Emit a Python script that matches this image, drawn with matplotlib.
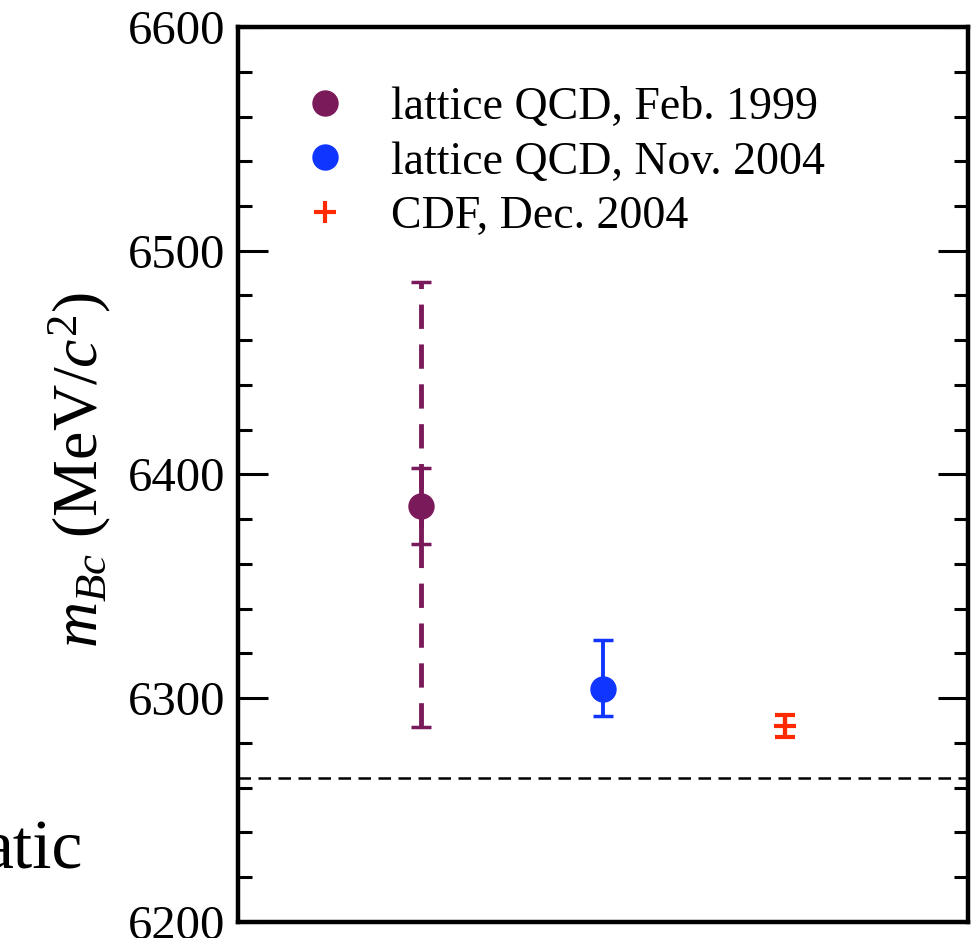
import matplotlib
matplotlib.use("Agg")
import matplotlib.pyplot as plt
from matplotlib.lines import Line2D

plt.rcParams['font.family'] = ['Liberation Serif', 'DejaVu Serif']
plt.rcParams['mathtext.fontset'] = 'custom'
plt.rcParams['mathtext.rm'] = 'Liberation Serif'
plt.rcParams['mathtext.it'] = 'Liberation Serif:italic'

# data (MeV/c^2)
labels = ['lattice QCD, Feb. 1999', 'lattice QCD, Nov. 2004', 'CDF, Dec. 2004']
xpos = [1, 2, 3]
mass = [6386, 6304, 6287.5]
err_total_lo = [99, 12, 5]
err_total_hi = [100, 22, 5]
err_stat_1999 = 17
threshold = 6264.5
colors = ['#7B1A5A', '#0F35FF', '#FF2A00']

fig = plt.figure(figsize=(9.74, 9.38), dpi=100)
ax = fig.add_axes([0.2444, 0.0171, 0.7494, 0.9541])

# horizontal dashed line
ax.axhline(threshold, color='black', lw=1.8, ls=(0, (5, 3)), zorder=1)

# lattice 1999: dashed total error + solid inner error
_, _, bars = ax.errorbar(xpos[0], mass[0], yerr=[[err_total_lo[0]], [err_total_hi[0]]],
                         fmt='none', ecolor=colors[0], elinewidth=3.5, capsize=7.5,
                         capthick=2.5, zorder=2)
bars[0].set_linestyle((0, (5, 3.2)))
ax.errorbar(xpos[0], mass[0], yerr=err_stat_1999, fmt='o', color=colors[0],
            ms=18, elinewidth=3.5, capsize=7.5, capthick=2.5, zorder=3)

# lattice 2004
ax.errorbar(xpos[1], mass[1], yerr=[[err_total_lo[1]], [err_total_hi[1]]], fmt='o',
            color=colors[1], ms=18, elinewidth=2.8, capsize=7.5, capthick=2.5, zorder=3)

# CDF
ax.errorbar(xpos[2], mass[2], yerr=[[err_total_lo[2]], [err_total_hi[2]]], fmt='+',
            color=colors[2], ms=16, mew=3, elinewidth=3, capsize=7.5, capthick=3, zorder=3)

ax.set_xlim(0, 4)
ax.set_ylim(6200, 6600)
ax.set_yticks([6200, 6300, 6400, 6500, 6600])
ax.set_yticks(range(6200, 6601, 20), minor=True)
ax.set_xticks([])
ax.tick_params(axis='y', which='both', direction='in', left=True, right=True,
               width=2.2, labelsize=35, pad=9)
ax.tick_params(axis='y', which='major', length=21.5)
ax.tick_params(axis='y', which='minor', length=10)
for s in ax.spines.values():
    s.set_linewidth(3.2)

ax.set_ylabel(r'$m_{Bc}$ (MeV/$c^2$)', fontsize=46)
ax.yaxis.set_label_coords(-0.172, 0.505)

handles = [Line2D([], [], marker='o', ls='none', color=colors[0], ms=18),
           Line2D([], [], marker='o', ls='none', color=colors[1], ms=18),
           Line2D([], [], marker='+', ls='none', color=colors[2], ms=16, mew=3)]
ax.legend(handles, labels, loc='upper left', bbox_to_anchor=(0.031, 0.9795),
          frameon=False, fontsize=33, handletextpad=0.94, labelspacing=0.26,
          handlelength=1.0)

fig.text(83 / 974, 1 - 868 / 938, 'atic', ha='right', va='baseline', fontsize=50)

fig.savefig('out.png', dpi=100)
